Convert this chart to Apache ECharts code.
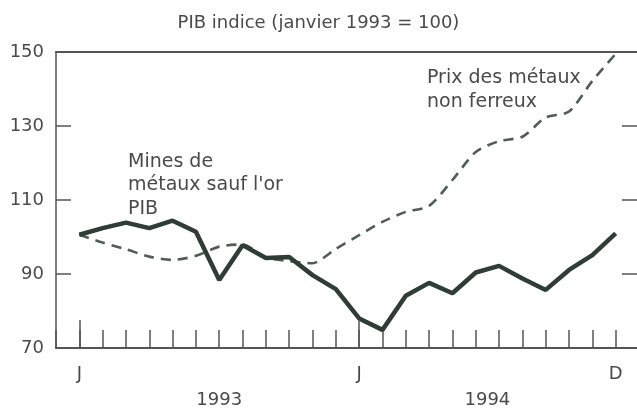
<!DOCTYPE html>
<html>
<head>
<meta charset="utf-8">
<script src="https://cdn.jsdelivr.net/npm/echarts@6/dist/echarts.min.js"></script>
<style>
  html, body { margin: 0; padding: 0; background: #fff; }
  #chart { width: 637px; height: 410px; }
</style>
</head>
<body>
<div id="chart"></div>
<script>
// mois : 0 = janvier 1993 ... 23 = décembre 1994
var mois = ['J','F','M','A','M','J','J','A','S','O','N','D',
            'J','F','M','A','M','J','J','A','S','O','N','D'];
// Mines de métaux sauf l'or, PIB
var mines = [100.6, 102.4, 103.9, 102.4, 104.4, 101.4, 88.4, 97.8, 94.3, 94.6, 89.7, 85.9,
             78.0, 74.9, 84.1, 87.6, 84.8, 90.4, 92.2, 88.8, 85.7, 91.1, 95.1, 101.0];
// Prix des métaux non ferreux
var metaux = [100.6, 98.5, 96.7, 94.7, 93.8, 94.9, 97.4, 98.0, 94.5, 93.5, 92.9, 96.8,
              100.5, 104.1, 106.8, 108.4, 115.4, 123.0, 125.9, 127.1, 132.3, 133.9, 142.2, 149.5];
var etiquettesMois = {0: 'J', 12: 'J', 23: 'D'};
var annees = {6: '1993', 17.5: '1994'};
var janvier = [0, 12];

var police = 'DejaVu Sans';
var gris = '#4a4a4a';

var myChart = echarts.init(document.getElementById('chart'));

var option = {
    animation: false,
    backgroundColor: '#fff',
    title: {
        text: 'PIB indice (janvier 1993 = 100)',
        left: 'center',
        top: 9,
        textStyle: { fontFamily: police, fontSize: 18, fontWeight: 'normal', color: gris }
    },
    grid: { left: 56, right: -2, top: 52, bottom: 62, outerBoundsMode: 'none' },
    xAxis: [
        {
            type: 'value', min: -1, max: 24, interval: 1,
            axisLine: { onZero: false, lineStyle: { color: '#555', width: 2 } },
            axisTick: { inside: true, length: 18, lineStyle: { color: '#555', width: 1.5 } },
            axisLabel: {
                margin: 17, fontFamily: police, fontSize: 18, color: gris,
                formatter: function (v) { return etiquettesMois[v] || ''; }
            },
            splitLine: { show: false }
        },
        {
            type: 'value', min: -1, max: 24, interval: 0.5, position: 'bottom', offset: 26,
            axisLine: { show: false, onZero: false }, axisTick: { show: false }, splitLine: { show: false },
            axisLabel: {
                margin: 17, fontFamily: police, fontSize: 18, color: gris,
                formatter: function (v) { return annees[v] || ''; }
            }
        },
        {
            type: 'value', min: -1, max: 24, position: 'top',
            axisLine: { onZero: false, lineStyle: { color: '#555', width: 2 } },
            axisTick: { show: false }, axisLabel: { show: false }, splitLine: { show: false }
        }
    ],
    yAxis: [
        {
            type: 'value', min: 70, max: 150, interval: 20,
            axisLine: { show: true, onZero: false, lineStyle: { color: '#555', width: 1.5 } },
            axisTick: { show: true, inside: true, length: 15, lineStyle: { color: '#555', width: 1.5 } },
            axisLabel: { margin: 12, fontFamily: police, fontSize: 18, color: gris },
            splitLine: { show: false }
        },
        {
            type: 'value', min: 70, max: 150, interval: 20, position: 'right',
            axisLine: { show: false, onZero: false },
            axisTick: { show: true, inside: true, length: 17, lineStyle: { color: '#555', width: 1.5 } },
            axisLabel: { show: false },
            splitLine: { show: false }
        }
    ],
    series: [
        {
            name: 'Prix des métaux non ferreux',
            type: 'line',
            data: metaux.map(function (v, i) { return [i, v]; }),
            showSymbol: false,
            smooth: 0.25,
            lineStyle: { color: '#4f5d54', width: 2.6, type: [10, 7] }
        },
        {
            name: "Mines de métaux sauf l'or PIB",
            type: 'line',
            data: mines.map(function (v, i) { return [i, v]; }),
            showSymbol: false,
            lineStyle: { color: '#303c36', width: 4.5 },
            markLine: {
                silent: true,
                symbol: 'none',
                label: { show: false },
                lineStyle: { color: '#555', width: 1.5, type: 'solid' },
                data: janvier.map(function (m) { return [{ coord: [m, 70] }, { coord: [m, 77.6] }]; })
            }
        }
    ],
    graphic: [
        {
            type: 'text', left: 128, top: 150,
            style: { text: "Mines de\nmétaux sauf l'or\nPIB", font: '19px "DejaVu Sans"', fill: gris, lineHeight: 23.5 }
        },
        {
            type: 'text', left: 427, top: 66,
            style: { text: 'Prix des métaux\nnon ferreux', font: '19px "DejaVu Sans"', fill: gris, lineHeight: 24 }
        }
    ]
};
myChart.setOption(option);
</script>
</body>
</html>
